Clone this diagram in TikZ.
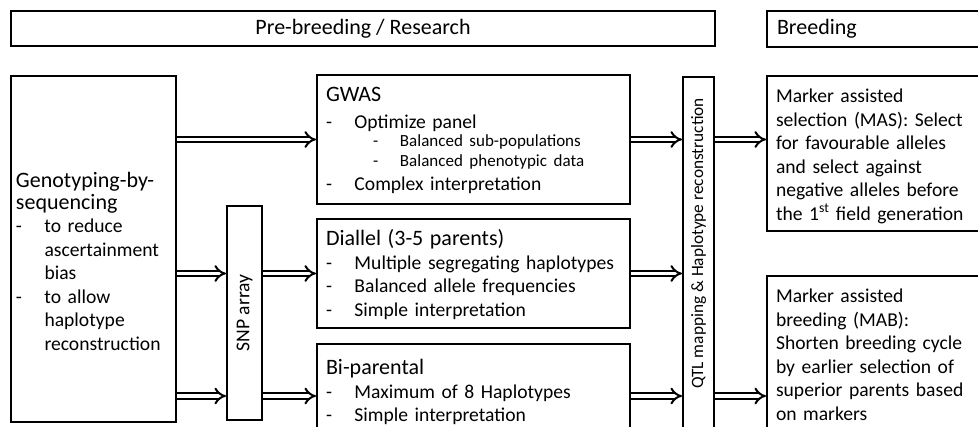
\documentclass[tikz,border=0pt]{standalone}
\usepackage{fontspec}
\usepackage{graphicx}
\setmainfont{Carlito}
\usepackage{tikz}
\usetikzlibrary{arrows.meta}

\newcommand{\hd}{\fontsize{22}{26}\selectfont}
\newcommand{\sm}{\fontsize{17}{20}\selectfont}
\newcommand{\li}{\makebox[28.5pt][l]{-}}
\newcommand{\lj}{\hspace*{28.5pt}}

\begin{document}
\begin{tikzpicture}[x=1pt, y=-1pt, font=\fontsize{19.6}{23.5}\selectfont,
  frame/.style={draw, line width=2pt, anchor=north west},
  box/.style 2 args={frame, align=left, inner xsep=9pt, inner ysep=0pt,
    text width=#1-18pt, text height=27pt, text depth=#2-27pt},
  dbl/.style={draw, double, double distance=3.6pt, line width=2pt, -{Implies[scale=1.5]}}]
  \useasboundingbox (0,0) rectangle (978,427);
  \clip (0,0) rectangle (978,427);
  \node[frame, minimum width=704pt, minimum height=35pt, font=\hd] (pre) at (10,10) {Pre-breeding / Research};
  \node[frame, minimum height=36pt, text width=230pt, inner xsep=10pt, align=left, font=\hd] (breed) at (766,10) {Breeding};
  \node[box={165pt}{346pt}, inner xsep=5pt, text width=155pt, text height=112pt, text depth=234pt] (gbs) at (10,75)
    {{\hd Genotyping-by-\\[-2pt] sequencing}\\ \li to reduce\\ \lj ascertainment\\ \lj bias\\
     \li to allow\\ \lj haplotype\\ \lj reconstruction};
  \node[frame, anchor=north, minimum width=35pt, minimum height=214pt, inner sep=0pt] (snp) at (244.5,205)
    {\rotatebox{90}{SNP array}};
  \node[box={313pt}{129pt}] (gwas) at (316,74)
    {{\hd GWAS}\\[3pt] \li Optimize panel\\[-2pt]
     {\sm\hspace*{47pt}\makebox[27pt][l]{-}Balanced sub-populations\\[-3pt]
     \hspace*{47pt}\makebox[27pt][l]{-}Balanced phenotypic data}\\ \li Complex interpretation};
  \node[box={313pt}{109pt}] (diallel) at (316,218)
    {{\hd Diallel (3-5 parents)}\\ \li Multiple segregating haplotypes\\ \li Balanced allele frequencies\\
     \li Simple interpretation};
  \node[box={313pt}{100pt}, text height=31pt] (bip) at (316,343)
    {{\hd Bi-parental}\\ \li Maximum of 8 Haplotypes\\ \li Simple interpretation};
  \node[frame, anchor=north, minimum width=31pt, inner xsep=0pt, inner ysep=21pt, text depth=60pt,
    font=\fontsize{17.3}{21}\selectfont] (qtl) at (698.5,76)
    {\rotatebox{90}{QTL mapping \& Haplotype reconstruction}};
  \node[box={250pt}{155pt}] (mas) at (766,75)
    {Marker assisted\\ selection (MAS): Select\\ for favourable alleles\\ and select against\\
     negative alleles before\\ the 1\textsuperscript{st} field generation};
  \node[box={250pt}{240pt}] (mab) at (766,275)
    {Marker assisted\\ breeding (MAB):\\ Shorten breeding cycle\\ by earlier selection of\\
     superior parents based\\ on markers};
  \path[every edge/.style={dbl}]
    (gbs.east |- gwas.west) edge (gwas.west)
    (gbs.east |- diallel.west) edge (snp.west |- diallel.west)
    (gbs.east |- bip.west) edge (snp.west |- bip.west)
    (snp.east |- diallel.west) edge (diallel.west)
    (snp.east |- bip.west) edge (bip.west)
    (gwas.east) edge (qtl.west |- gwas.east)
    (diallel.east) edge (qtl.west |- diallel.east)
    (bip.east) edge (qtl.west |- bip.east)
    (qtl.east |- gwas.east) edge (mas.west |- gwas.east)
    (qtl.east |- mab.west) edge (mab.west);
\end{tikzpicture}
\end{document}
